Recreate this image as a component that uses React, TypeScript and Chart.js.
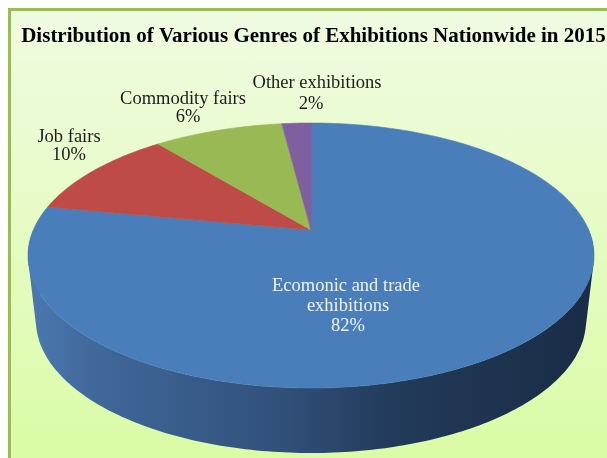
import React, { useEffect, useRef } from "react";
import { Chart, registerables } from "chart.js";

Chart.register(...registerables);

const titleText = "Distribution of Various Genres of Exhibitions Nationwide in 2015";
const categories = ["Ecomonic and trade exhibitions", "Job fairs", "Commodity fairs", "Other exhibitions"];
// Printed percentages, shown as labels.
const printedPercent = [82, 10, 6, 2];
// Share of the circle that each slice really takes up in the picture.
const drawnShare = [78, 11.1, 8.9, 2];
const sliceColors = ["#4a7ebb", "#be4b48", "#98b954", "#7f5f9f"];
const labelLines = [["Ecomonic and trade", "exhibitions"], ["Job fairs"], ["Commodity fairs"], ["Other exhibitions"]];
const labelColors = ["#eef3fa", "#1c1c1c", "#1c1c1c", "#1c1c1c"];
const labelCentres = [[346, 286], [69, 137], [183, 99], [317, 83]];
const percentCentres = [[348, 326], [69, 155], [188, 117], [311, 104]];

const APEX_X = 311;
const APEX_Y = 230;
const K = 0.1925;
const A = 277.7;
const B = 127.6;
const DEPTH = 65;

function project(angle: number, lower: boolean): [number, number] {
  const u = Math.cos(angle);
  const v = Math.sin(angle);
  const w = 1 - K * v;
  const squeeze = lower ? 0.972 : 1;
  return [APEX_X + (squeeze * A * u) / w, APEX_Y + (B * v) / w + (lower ? DEPTH : 0)];
}

const perspectivePie = {
  id: "perspectivePie",
  beforeDatasetsDraw(chart: any) {
    const ctx = chart.ctx;
    const arcs = chart.getDatasetMeta(0).data;
    const wall = ctx.createLinearGradient(29, 0, 594, 0);
    wall.addColorStop(0, "#4a78b0");
    wall.addColorStop(0.13, "#3f6798");
    wall.addColorStop(0.45, "#31507a");
    wall.addColorStop(0.65, "#223a59");
    wall.addColorStop(1, "#1a2c46");
    const angles = (arc: any) => {
      const n = Math.max(2, Math.ceil((arc.endAngle - arc.startAngle) * 60));
      const list: number[] = [];
      for (let i = 0; i <= n; i++) list.push(arc.startAngle + ((arc.endAngle - arc.startAngle) * i) / n);
      return list;
    };
    ctx.save();
    // One path of consistently wound quads, so the wall fills as a single smooth shape.
    ctx.beginPath();
    arcs.forEach((arc: any) => {
      const list = angles(arc);
      for (let i = 0; i < list.length - 1; i++) {
        if (Math.sin(list[i]) < 0 && Math.sin(list[i + 1]) < 0) continue;
        const q = [
          project(list[i], false),
          project(list[i + 1], false),
          project(list[i + 1], true),
          project(list[i], true),
        ];
        let area = 0;
        q.forEach((p, j) => {
          const r = q[(j + 1) % 4];
          area += p[0] * r[1] - r[0] * p[1];
        });
        const ordered = area < 0 ? q.slice().reverse() : q;
        ordered.forEach(([x, y], j) => (j ? ctx.lineTo(x, y) : ctx.moveTo(x, y)));
        ctx.closePath();
      }
    });
    ctx.fillStyle = wall;
    ctx.fill();
    arcs.forEach((arc: any) => {
      ctx.beginPath();
      ctx.moveTo(APEX_X, APEX_Y);
      angles(arc).forEach((t) => {
        const [x, y] = project(t, false);
        ctx.lineTo(x, y);
      });
      ctx.closePath();
      ctx.fillStyle = arc.options.backgroundColor;
      ctx.strokeStyle = arc.options.backgroundColor;
      ctx.lineWidth = 0.6;
      ctx.fill();
      ctx.stroke();
    });
    ctx.restore();
    return false;
  },
  afterDraw(chart: any) {
    const ctx = chart.ctx;
    ctx.save();
    ctx.font = '18.5px "Liberation Serif"';
    ctx.textAlign = "center";
    ctx.textBaseline = "middle";
    categories.forEach((_, i) => {
      ctx.fillStyle = labelColors[i];
      labelLines[i].forEach((line, j) => {
        ctx.fillText(line, labelCentres[i][0] + (j ? 2 : 0), labelCentres[i][1] + j * 20);
      });
      ctx.fillText(printedPercent[i] + "%", percentCentres[i][0], percentCentres[i][1]);
    });
    ctx.restore();
  },
};

export default function App() {
  const ref = useRef<HTMLCanvasElement>(null);
  useEffect(() => {
    const chart = new Chart(ref.current!, {
      type: "pie",
      data: {
        labels: categories,
        datasets: [{ data: drawnShare, backgroundColor: sliceColors, borderWidth: 0 }],
      },
      options: {
        animation: false,
        responsive: false,
        layout: { padding: { left: 20, top: 24 } },
        plugins: {
          legend: { display: false },
          tooltip: { enabled: false },
          title: {
            display: true,
            text: titleText,
            color: "#000000",
            font: { family: '"Liberation Serif"', size: 21, weight: "bold" },
            padding: { top: 0, bottom: 10 },
          },
        },
      },
      plugins: [perspectivePie],
    } as any);
    return () => chart.destroy();
  }, []);
  return (
    <div style={{ position: "fixed", left: 0, top: 0, width: 607, height: 458, overflow: "hidden", background: "#ffffff" }}>
      <div
        style={{
          position: "absolute",
          left: 8,
          top: 8,
          right: 0,
          bottom: 0,
          borderLeft: "3px solid #9bbb59",
          borderTop: "3px solid #9bbb59",
          background: "linear-gradient(#f0fbe2, #dbfba6)",
        }}
      />
      <canvas ref={ref} width={607} height={458} style={{ position: "absolute", left: 0, top: 0 }} />
    </div>
  );
}
